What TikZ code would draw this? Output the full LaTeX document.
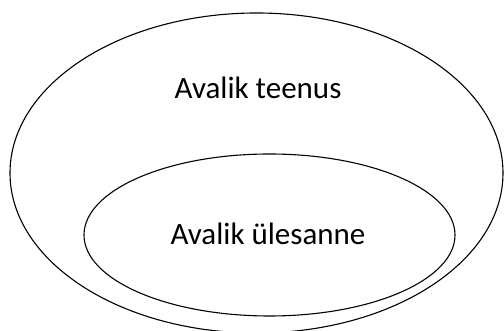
\documentclass[tikz,border=0pt]{standalone}
\usepackage{fontspec}
\setmainfont{Carlito}
\begin{document}
\begin{tikzpicture}[x=1pt,y=1pt,
  ring/.style={draw=black, line width=1.1pt},
  label/.style={font=\fontsize{31}{36}\selectfont, anchor=base, inner sep=0pt}]
  \useasboundingbox (0,0) rectangle (504,331);
  % outer set and nested inner set
  \draw[ring] (256.5,158) ellipse [x radius=246.5, y radius=160];
  \draw[ring] (269.5,96) ellipse [x radius=185.5, y radius=81];
  \node[label] (teenus) at (258,232) {Avalik teenus};
  \node[label] (ylesanne) at (268,86) {Avalik ülesanne};
\end{tikzpicture}
\end{document}
